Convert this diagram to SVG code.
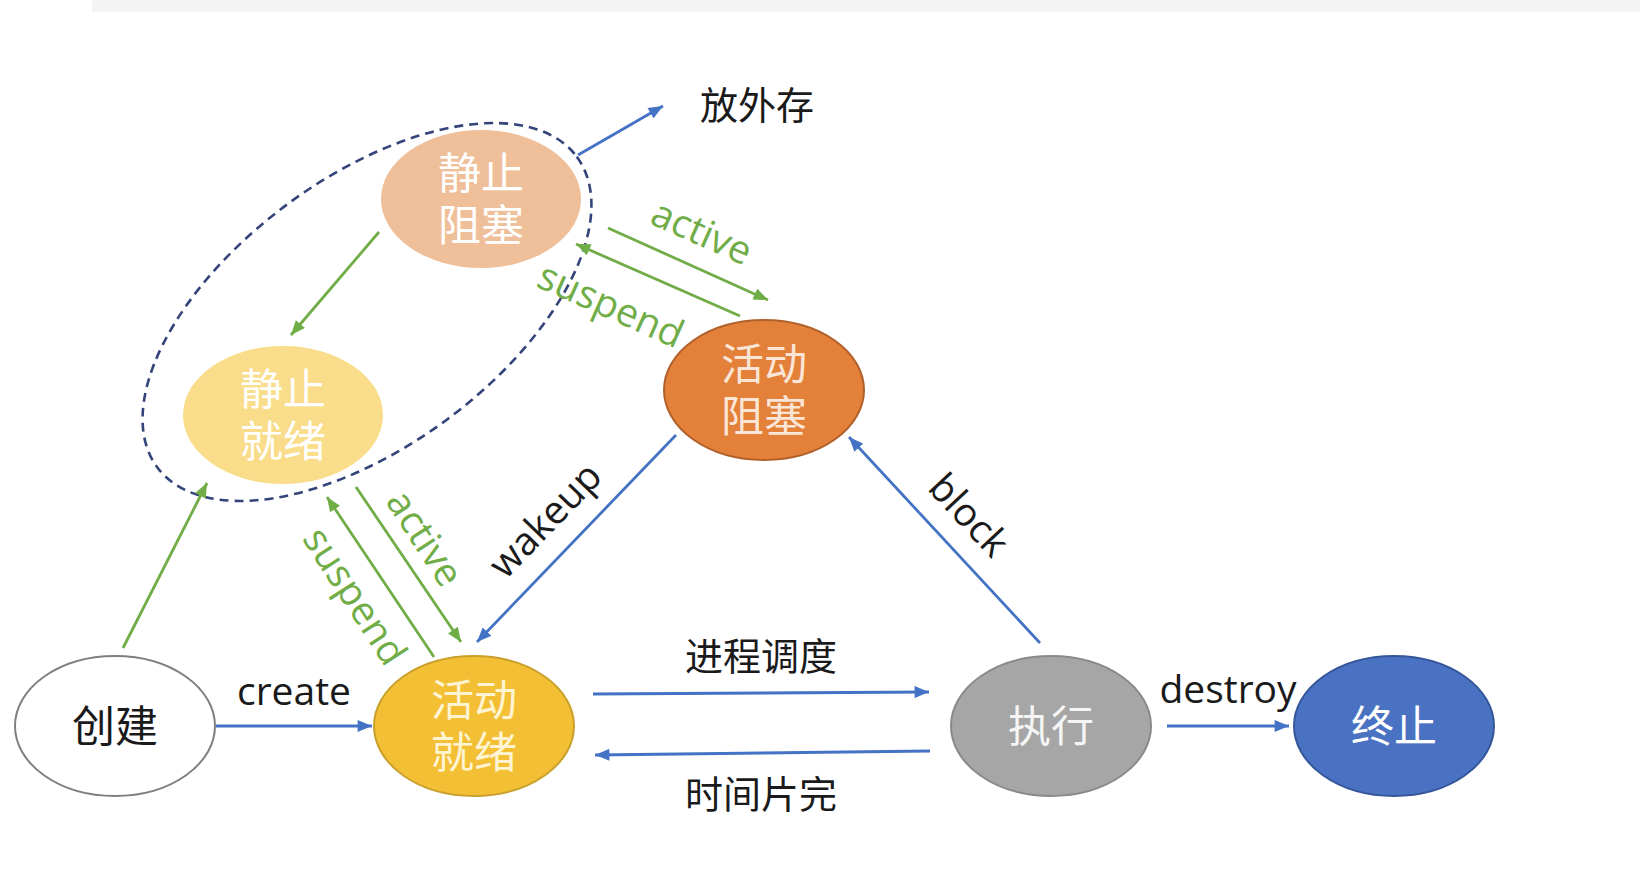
<svg xmlns="http://www.w3.org/2000/svg" width="1640" height="896" viewBox="0 0 1640 896">
  <defs>
    <marker id="ab" viewBox="0 0 12 10" refX="12" refY="5" markerWidth="15" markerHeight="12" markerUnits="userSpaceOnUse" orient="auto">
      <path d="M0,0 L12,5 L0,10 z" fill="#4472c4"/>
    </marker>
    <marker id="ag" viewBox="0 0 12 10" refX="12" refY="5" markerWidth="15" markerHeight="12" markerUnits="userSpaceOnUse" orient="auto">
      <path d="M0,0 L12,5 L0,10 z" fill="#70ad47"/>
    </marker>
  </defs>
  <style>
    .node-t { font-family: "Noto Sans CJK SC", "Noto Sans", sans-serif; font-size: 43px; text-anchor: middle; }
    .cjk { font-family: "Noto Sans CJK SC", "Noto Sans", sans-serif; font-size: 38px; fill: #1a1a1a; text-anchor: middle; }
    .lat { font-family: "Open Sans", "Noto Sans", sans-serif; font-size: 39px; text-anchor: middle; }
    .green-t { fill: #70ad47; }
    .black-t { fill: #1a1a1a; }
    .blue { stroke: #4472c4; stroke-width: 2.8; fill: none; marker-end: url(#ab); }
    .green { stroke: #70ad47; stroke-width: 2.8; fill: none; marker-end: url(#ag); }
  </style>
  <rect width="1640" height="896" fill="#ffffff"/>
  <rect x="92" y="0" width="1548" height="12" fill="#f4f4f4"/>

  <!-- dashed grouping ellipse -->
  <ellipse cx="367" cy="312" rx="261" ry="134" transform="rotate(-36.5 367 312)" fill="none" stroke="#34447a" stroke-width="2.6" stroke-dasharray="9 6"/>

  <g id="connectors">
    <line class="blue" x1="578" y1="155" x2="663" y2="106"/>
    <line class="green" x1="379" y1="232" x2="291" y2="335"/>
    <line class="green" x1="608" y1="228" x2="768" y2="300"/>
    <line class="green" x1="740" y1="316" x2="576" y2="244"/>
    <line class="green" x1="123" y1="648" x2="207" y2="483"/>
    <line class="green" x1="356" y1="487" x2="461" y2="642"/>
    <line class="green" x1="434" y1="657" x2="327" y2="497"/>
    <line class="blue" x1="676" y1="435" x2="477" y2="642"/>
    <line class="blue" x1="1040" y1="643" x2="849" y2="437"/>
    <line class="blue" x1="216" y1="726" x2="372" y2="726"/>
    <line class="blue" x1="593" y1="694" x2="929" y2="692"/>
    <line class="blue" x1="930" y1="751" x2="595" y2="755"/>
    <line class="blue" x1="1167" y1="726" x2="1289" y2="726"/>

    <text class="cjk" x="757" y="119">放外存</text>
    <text class="lat green-t" transform="translate(702 232) rotate(24)" dy="0.35em">active</text>
    <text class="lat green-t" transform="translate(611 305) rotate(24)" dy="0.35em">suspend</text>
    <text class="lat green-t" transform="translate(425 538) rotate(57)" dy="0.35em">active</text>
    <text class="lat green-t" transform="translate(355 596) rotate(57)" dy="0.35em">suspend</text>
    <text class="lat black-t" transform="translate(545 520) rotate(-46)" dy="0.35em">wakeup</text>
    <text class="lat black-t" transform="translate(969 515) rotate(47)" dy="0.35em">block</text>
    <text class="lat black-t" x="294" y="705">create</text>
    <text class="lat black-t" x="1228" y="703">destroy</text>
    <text class="cjk" x="761" y="670">进程调度</text>
    <text class="cjk" x="761" y="808">时间片完</text>
  </g>

  <g id="node-create">
    <ellipse cx="115" cy="726" rx="100" ry="70" fill="#ffffff" stroke="#7f7f7f" stroke-width="2"/>
    <text class="node-t" x="115" y="742" fill="#1a1a1a">创建</text>
  </g>
  <g id="node-active-ready">
    <ellipse cx="474" cy="726" rx="100" ry="70" fill="#f3bf35" stroke="#c9a02c" stroke-width="2"/>
    <text class="node-t" fill="#fff4d2"><tspan x="474" y="716">活动</tspan><tspan x="474" y="768">就绪</tspan></text>
  </g>
  <g id="node-run">
    <ellipse cx="1051" cy="726" rx="100" ry="70" fill="#a6a6a6" stroke="#8a8a8a" stroke-width="2"/>
    <text class="node-t" x="1051" y="742" fill="#f5f5f5">执行</text>
  </g>
  <g id="node-end">
    <ellipse cx="1394" cy="726" rx="100" ry="70" fill="#4a72c2" stroke="#35569a" stroke-width="2"/>
    <text class="node-t" x="1394" y="742" fill="#ffffff">终止</text>
  </g>
  <g id="node-active-blocked">
    <ellipse cx="764" cy="390" rx="100" ry="70" fill="#e38039" stroke="#b0602a" stroke-width="2"/>
    <text class="node-t" fill="#fbe5d6"><tspan x="764" y="380">活动</tspan><tspan x="764" y="432">阻塞</tspan></text>
  </g>
  <g id="node-static-blocked">
    <ellipse cx="481" cy="199" rx="100" ry="69" fill="#efbf9a"/>
    <text class="node-t" fill="#ffffff"><tspan x="481" y="189">静止</tspan><tspan x="481" y="241">阻塞</tspan></text>
  </g>
  <g id="node-static-ready">
    <ellipse cx="283" cy="415" rx="100" ry="69" fill="#f9dd8a"/>
    <text class="node-t" fill="#ffffff"><tspan x="283" y="405">静止</tspan><tspan x="283" y="457">就绪</tspan></text>
  </g>
</svg>
